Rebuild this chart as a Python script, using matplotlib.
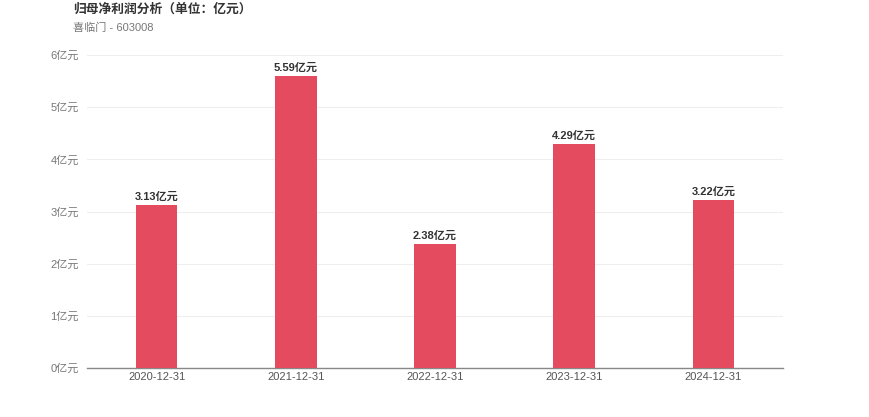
import matplotlib.pyplot as plt

plt.rcParams['font.family'] = ['Liberation Sans', 'Noto Sans CJK SC', 'DejaVu Sans']

# --- Data ---
dates = ["2020-12-31", "2021-12-31", "2022-12-31", "2023-12-31", "2024-12-31"]
profit = [3.13, 5.59, 2.38, 4.29, 3.22]  # 亿元
y_ticks = [0, 1, 2, 3, 4, 5, 6]

BAR_COLOR = "#e54b5e"


def plot_profit():
    fig = plt.figure(figsize=(8.7, 4.17), dpi=100)
    ax = fig.add_axes([0.1, 0.1175, 0.8, 0.7506])

    x = range(len(dates))
    ax.bar(x, profit, width=0.3, color=BAR_COLOR, zorder=3)

    for xi, v in zip(x, profit):
        ax.text(xi, v + 0.06, f"{v:.2f}亿元", ha='center', va='bottom',
                fontsize=8, fontweight='bold', color='#333333')

    ax.set_xlim(-0.5, len(dates) - 0.5)
    ax.set_ylim(0, 6)
    ax.set_xticks(list(x))
    ax.set_xticklabels(dates, fontsize=8, color='#555555')
    ax.set_yticks(y_ticks)
    ax.set_yticklabels([f"{t}亿元" for t in y_ticks], fontsize=8, color='#777777')
    ax.tick_params(axis='both', length=0)
    ax.tick_params(axis='y', pad=6)
    ax.tick_params(axis='x', pad=3)

    ax.grid(axis='y', color='#eeeeee', linewidth=0.8, zorder=0)
    for side in ['top', 'right', 'left']:
        ax.spines[side].set_visible(False)
    ax.spines['bottom'].set_color('#888888')
    ax.spines['bottom'].set_linewidth(1)

    fig.text(73 / 870, 1 - 10 / 417, "归母净利润分析（单位：亿元）", fontsize=9.2,
             fontweight='bold', color='#333333', va='center', ha='left')
    fig.text(73 / 870, 1 - 28 / 417, "喜临门 - 603008", fontsize=8,
             color='#777777', va='center', ha='left')

    fig.savefig("out.png", dpi=100)
    plt.close(fig)


if __name__ == "__main__":
    plot_profit()
